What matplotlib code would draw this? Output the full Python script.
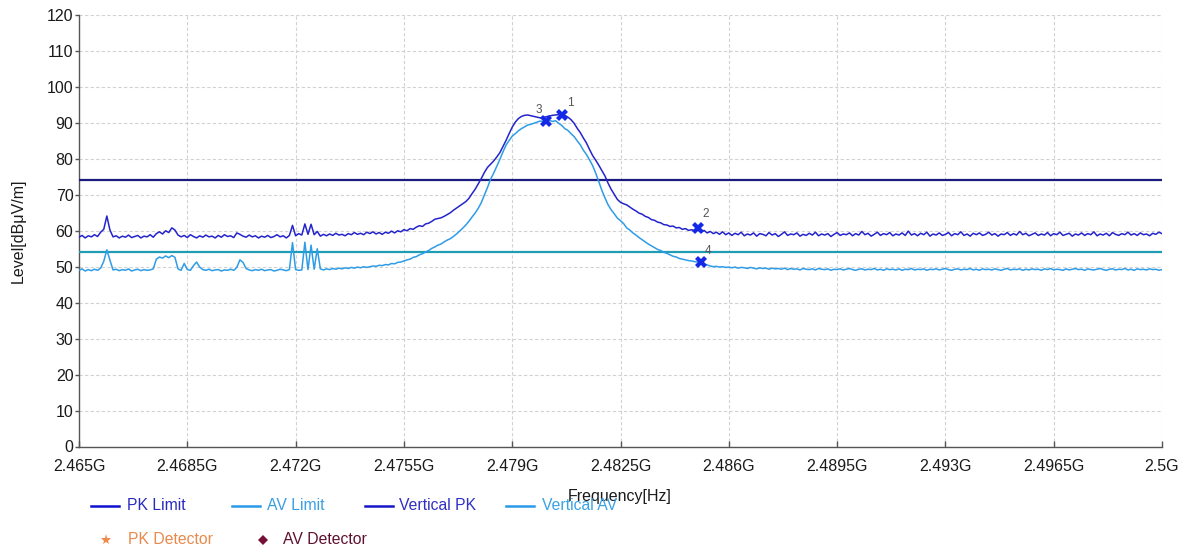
import numpy as np
import matplotlib
matplotlib.use("Agg")
import matplotlib.pyplot as plt
from matplotlib.lines import Line2D

plt.rcParams["font.family"] = ["Liberation Sans", "DejaVu Sans"]

# Sweep range (Hz); traces are sampled on a uniform 0.1 MHz grid
f_start = 2.465e9
f_stop = 2.5e9

# Vertical polarisation, peak detector trace (dBuV/m)
vertical_pk = [
    58.2, 58.7, 58.0, 58.6, 58.3, 58.9, 58.4, 59.6, 60.4, 64.1,
    60.2, 58.3, 58.6, 58.0, 58.5, 58.2, 58.8, 58.1, 58.4, 58.7,
    58.0, 58.5, 58.3, 58.9, 58.2, 59.2, 59.7, 59.1, 60.0, 59.5,
    60.8, 60.2, 58.8, 58.3, 58.7, 58.1, 58.9, 58.4, 58.0, 58.6,
    58.2, 58.8, 58.3, 58.5, 58.0, 58.7, 58.2, 58.9, 58.4, 58.6,
    58.1, 59.4, 59.0, 58.5, 58.2, 58.8, 58.3, 58.6, 58.0, 58.5,
    58.2, 58.7, 58.1, 58.4, 58.9, 58.3, 58.6, 58.0, 58.7, 61.5,
    58.6, 59.2, 58.8, 61.9, 59.0, 61.8, 58.9, 59.8, 58.5, 59.0,
    58.6, 59.1, 58.7, 59.3, 58.8, 59.0, 58.6, 59.2, 58.9, 59.5,
    59.0, 59.3, 58.9, 59.6, 59.2, 59.7, 59.1, 59.5, 59.0, 59.6,
    59.3, 59.9, 59.4, 60.0, 59.7, 60.3, 60.0, 60.6, 60.4, 61.0,
    61.4, 61.2, 61.9, 62.1, 62.6, 63.2, 63.4, 63.6, 64.0, 64.5,
    65.0, 65.7, 66.3, 66.9, 67.5, 68.1, 69.0, 70.3, 71.5, 73.0,
    74.5, 76.2, 77.6, 78.5, 79.4, 80.5, 81.7, 83.4, 85.1, 87.0,
    88.8, 90.2, 91.2, 91.8, 92.1, 92.2, 92.0, 91.8, 91.6, 91.4,
    91.5, 91.7, 91.9, 92.1, 92.2, 92.3, 92.3, 92.1, 91.6, 90.9,
    89.9, 88.5, 87.3, 85.8, 84.4, 82.6, 80.9, 79.6, 78.2, 76.7,
    75.2, 73.2, 71.5, 70.1, 68.7, 67.9, 67.5, 67.2, 66.6, 66.0,
    65.5, 64.9, 64.6, 64.0, 63.7, 63.1, 62.9, 62.4, 62.2, 61.7,
    61.6, 61.2, 61.3, 60.8, 60.9, 60.4, 60.6, 60.1, 60.3, 59.9,
    60.8, 59.6, 60.1, 59.4, 59.8, 59.2, 59.6, 59.0, 59.7, 58.9,
    59.4, 58.7, 59.3, 58.9, 59.6, 58.6, 59.1, 58.8, 59.4, 58.5,
    59.2, 59.0, 58.6, 59.5, 58.8, 59.2, 58.4, 59.0, 59.7, 58.7,
    59.1, 58.9, 59.4, 58.5, 59.0, 58.7, 59.3, 58.8, 59.6, 58.6,
    59.1, 58.8, 59.2, 58.4, 59.0, 59.5, 58.7, 59.1, 58.9, 59.4,
    58.6, 59.2, 58.8, 59.8, 58.9, 59.3, 58.5, 59.0, 59.6, 58.7,
    59.2, 58.9, 59.5, 58.6, 59.1, 58.8, 59.4, 58.7, 59.9, 58.8,
    59.2, 58.6, 59.3, 58.9, 59.6, 58.5, 59.1, 58.8, 59.4, 58.7,
    59.0, 59.5, 58.6, 59.2, 58.9, 59.7, 58.7, 59.1, 58.5, 59.3,
    58.9, 59.4, 58.7, 59.0, 59.6, 58.8, 59.2, 58.5, 59.1, 58.9,
    59.5, 58.7, 59.2, 58.8, 59.8, 58.9, 59.3, 58.6, 59.0, 59.4,
    58.7, 59.1, 58.8, 59.5, 58.6, 59.2, 58.9, 59.6, 58.7, 59.0,
    59.3, 58.5, 59.1, 58.8, 59.4, 58.7, 59.2, 58.9, 59.7, 58.6,
    59.1, 58.8, 59.3, 58.6, 59.5, 59.0, 58.7, 59.2, 58.9, 59.6,
    58.8, 59.2, 58.7, 59.4, 58.9, 59.1, 58.6, 59.3, 59.0, 59.6,
    59.2,
]

# Vertical polarisation, average detector trace (dBuV/m)
vertical_av = [
    49.0, 49.4, 48.8, 49.2, 48.9, 49.3, 49.0, 49.6, 51.5, 54.7,
    51.8, 49.1, 49.3, 48.9, 49.2, 49.0, 49.4, 48.8, 49.1, 49.3,
    48.9, 49.2, 49.0, 49.1, 49.4, 52.1, 52.7, 52.4, 53.0, 52.5,
    53.1, 52.6, 49.4, 49.0, 50.9, 49.2, 49.0, 50.3, 51.3, 49.9,
    49.2, 49.0, 49.3, 48.9, 49.1, 49.2, 48.8, 49.1, 49.0, 49.3,
    49.0, 49.8, 51.9, 51.2, 49.5, 49.1, 48.9, 49.2, 49.0, 49.3,
    48.9, 49.1, 49.2, 48.8, 49.0, 49.3, 49.1, 48.9, 49.2, 56.7,
    49.2, 49.0, 49.1, 56.8, 49.2, 56.0, 49.3, 55.0, 49.4, 49.1,
    49.4, 49.2, 49.5, 49.3, 49.6, 49.4, 49.7, 49.5, 49.8, 49.6,
    49.9, 49.7, 50.0, 49.8, 50.0, 50.2, 50.1, 50.4, 50.3, 50.6,
    50.5, 50.9, 50.8, 51.2, 51.3, 51.6, 51.9, 52.1, 52.6, 52.8,
    53.3, 53.6, 54.1, 54.5, 55.1, 55.5, 56.0, 56.3, 56.9, 57.4,
    57.8, 58.4, 59.1, 59.9, 60.7, 61.6, 62.6, 63.8, 64.9, 66.2,
    67.8, 69.9, 72.0, 74.3, 76.0, 77.9, 79.8, 81.9, 83.8, 85.1,
    86.3, 87.0, 87.8, 88.4, 88.9, 89.4, 89.6, 89.9, 90.2, 90.5,
    90.4, 90.5, 90.7, 90.4, 90.6, 89.9, 89.3, 88.4, 87.9, 87.0,
    86.2, 85.0, 83.9, 82.4, 81.2, 79.7, 78.1, 76.0, 73.6, 71.2,
    69.1, 67.2, 65.8, 64.7, 63.5, 62.8, 62.0, 60.8, 60.2, 59.4,
    58.8, 58.1, 57.5, 56.9, 56.3, 55.8, 55.3, 54.8, 54.5, 54.0,
    53.7, 53.3, 52.9, 52.7, 52.3, 52.1, 51.9, 51.7, 51.6, 51.4,
    51.3, 51.2, 50.8, 50.5, 50.2, 50.0, 50.1, 49.9, 50.0, 49.8,
    49.9, 49.7, 49.9, 49.6, 49.8, 49.7, 49.5, 49.8, 49.6, 49.4,
    49.7, 49.5, 49.6, 49.3, 49.6, 49.4, 49.5, 49.3, 49.6, 49.2,
    49.5, 49.3, 49.4, 49.1, 49.5, 49.3, 49.2, 49.4, 49.1, 49.5,
    49.3, 49.2, 49.4, 49.0, 49.3, 49.2, 49.4, 49.1, 49.3, 49.5,
    49.2, 49.0, 49.3, 49.4, 49.1, 49.3, 49.2, 49.5, 49.1, 49.3,
    49.0, 49.4, 49.2, 49.3, 49.1, 49.4, 49.0, 49.3, 49.2, 49.5,
    49.1, 49.3, 49.2, 49.4, 49.0, 49.3, 49.2, 49.4, 49.1, 49.3,
    49.5, 49.2, 49.0, 49.3, 49.4, 49.1, 49.3, 49.2, 49.5, 49.1,
    49.3, 49.0, 49.4, 49.2, 49.3, 49.1, 49.4, 49.2, 49.0, 49.3,
    49.5, 49.1, 49.3, 49.2, 49.4, 49.0, 49.3, 49.1, 49.4, 49.2,
    49.3, 49.0, 49.4, 49.2, 49.5, 49.1, 49.3, 49.2, 49.0, 49.4,
    49.1, 49.3, 49.5, 49.2, 49.3, 49.0, 49.4, 49.2, 49.1, 49.3,
    49.5, 49.2, 49.0, 49.3, 49.4, 49.1, 49.3, 49.2, 49.5, 49.1,
    49.3, 49.0, 49.4, 49.2, 49.3, 49.1, 49.4, 49.2, 49.3, 49.0,
    49.2,
]

# Emission limits (dBuV/m)
pk_limit = 74.0
av_limit = 54.0

# Marker table: id, trace it sits on, sample index on the sweep grid
marker_ids = ["1", "2", "3", "4"]
marker_traces = ["PK", "PK", "AV", "AV"]
marker_index = [156, 200, 151, 201]

x_ticks = [2.465e9, 2.4685e9, 2.472e9, 2.4755e9, 2.479e9, 2.4825e9,
           2.486e9, 2.4895e9, 2.493e9, 2.4965e9, 2.5e9]
x_tick_labels = ["2.465G", "2.4685G", "2.472G", "2.4755G", "2.479G", "2.4825G",
                 "2.486G", "2.4895G", "2.493G", "2.4965G", "2.5G"]
y_ticks = [0, 10, 20, 30, 40, 50, 60, 70, 80, 90, 100, 110, 120]

assert len(vertical_pk) == len(vertical_av)

W, H = 1189, 552
fig = plt.figure(figsize=(W / 100, H / 100), dpi=100)
ax = fig.add_axes([79 / W, (H - 446.5) / H, (1162 - 79) / W, (446.5 - 15) / H])

freqs = np.linspace(f_start, f_stop, len(vertical_pk))
pk = np.array(vertical_pk)
av = np.array(vertical_av)

c_pk_trace = "#2424cc"
c_av_trace = "#2e9ce6"
c_pk_limit = "#1c1c80"
c_av_limit = "#1f9db5"

ax.axhline(pk_limit, color=c_pk_limit, lw=1.6, zorder=3)
ax.axhline(av_limit, color=c_av_limit, lw=1.6, zorder=3)
ax.plot(freqs, av, color=c_av_trace, lw=1.1, zorder=4)
ax.plot(freqs, pk, color=c_pk_trace, lw=1.1, zorder=5)

label_offsets = {"1": (3.5, 6.5), "2": (3.0, 7.5), "3": (-7.5, 6.0), "4": (3.0, 6.0)}
for mid, tr, idx in zip(marker_ids, marker_traces, marker_index):
    yv = pk[idx] if tr == "PK" else av[idx]
    ax.plot(freqs[idx], yv, marker="X", ms=9, color="#1428e6", zorder=6,
            markeredgewidth=0)
    ax.annotate(mid, (freqs[idx], yv), xytext=label_offsets[mid],
                textcoords="offset points", fontsize=8.5, color="#555555",
                zorder=7)

ax.set_xlim(f_start, f_stop)
ax.set_ylim(0, 120)
ax.set_xticks(x_ticks)
ax.set_xticklabels(x_tick_labels)
ax.set_yticks(y_ticks)
ax.grid(True, color="#d2d2d2", lw=0.8, linestyle=(0, (3, 2)))
ax.set_axisbelow(True)
for side in ("top", "right"):
    ax.spines[side].set_visible(False)
for side in ("left", "bottom"):
    ax.spines[side].set_color("#555555")
    ax.spines[side].set_linewidth(1.0)
ax.tick_params(axis="x", direction="in", length=4, width=1, colors="#555555",
               labelcolor="#1a1a1a", labelsize=11.5, pad=9)
ax.tick_params(axis="y", direction="out", length=3, width=1, colors="#555555",
               labelcolor="#1a1a1a", labelsize=11.5, pad=1)

fig.text(18 / W, 1 - 231 / H, "Level[dBμV/m]", rotation=90, ha="center",
         va="center", fontsize=11.5, color="#1a1a1a")
fig.text(620 / W, 1 - 497 / H, "Frequency[Hz]", ha="center", va="center",
         fontsize=11.5, color="#1a1a1a")

# Legend, drawn in figure pixels
def legend_line(x0, y, color, label, text_color, text_x):
    fy = 1 - y / H
    fig.add_artist(Line2D([x0 / W, (x0 + 28) / W], [fy, fy], color=color, lw=1.8))
    fig.text(text_x / W, fy, label, color=text_color, va="center", ha="left",
             fontsize=11.3)

def legend_marker(x, y, marker, ms, color, label, text_color, text_x):
    fy = 1 - y / H
    fig.add_artist(Line2D([x / W], [fy], marker=marker, ms=ms, color=color,
                          markeredgewidth=0, linestyle="none"))
    fig.text(text_x / W, fy, label, color=text_color, va="center", ha="left",
             fontsize=11.3)

legend_line(91, 506, "#1010d0", "PK Limit", "#2a2ac0", 127)
legend_line(232, 506, "#2a9ae8", "AV Limit", "#3a9ee2", 267)
legend_line(365, 506, "#1616c8", "Vertical PK", "#2f2fc2", 399)
legend_line(506, 506, "#2a9ae8", "Vertical AV", "#3aa2e4", 542)
legend_marker(106, 540, "*", 8, "#f08a4a", "PK Detector", "#e88a4c", 128)
legend_marker(263, 540, "D", 5, "#761038", "AV Detector", "#5e1230", 283)

fig.savefig("out.png", dpi=100)
